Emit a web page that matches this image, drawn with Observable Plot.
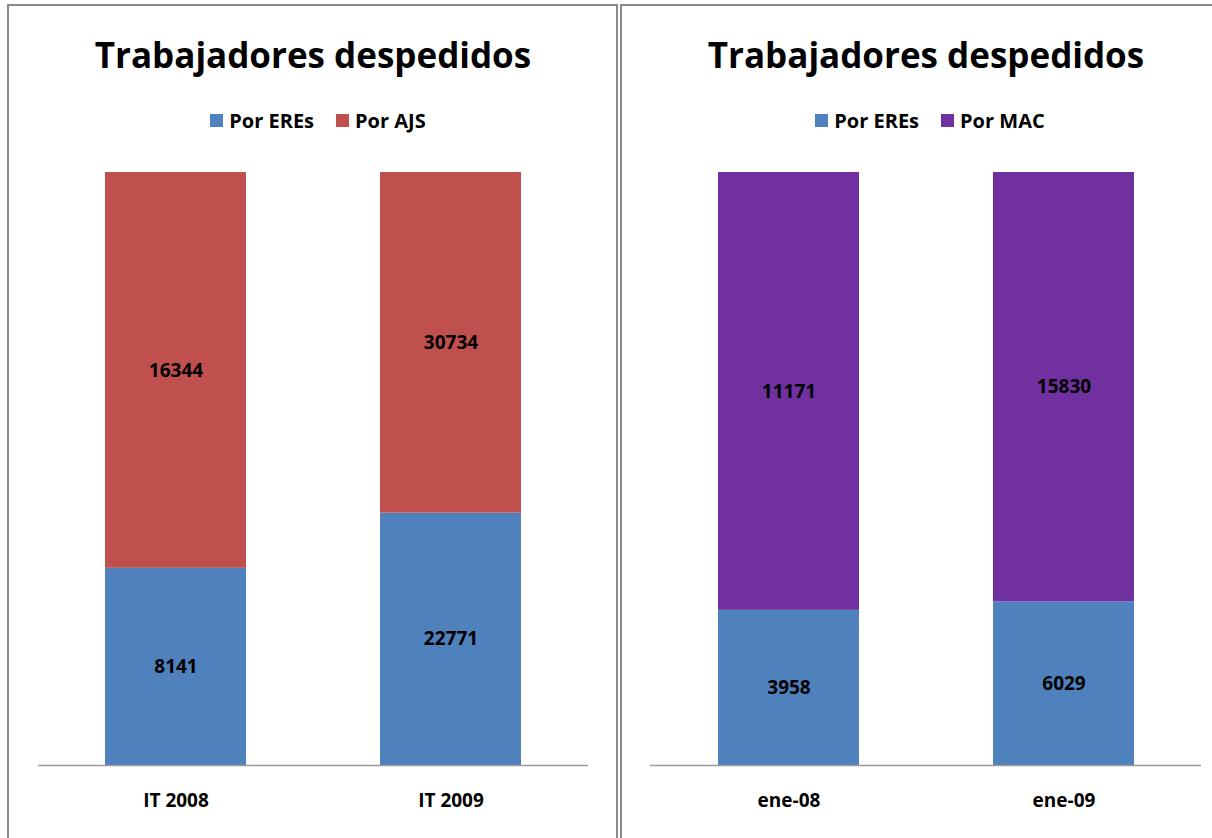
<!DOCTYPE html>
<html>
<head>
<meta charset="utf-8">
<script src="https://cdn.jsdelivr.net/npm/d3@7"></script>
<script src="https://cdn.jsdelivr.net/npm/@observablehq/plot@0.6"></script>
<style>
  html, body { margin: 0; padding: 0; background: #fff; }
  body { width: 1212px; height: 838px; position: relative; overflow: hidden; font-family: "Open Sans", Lato, sans-serif; }
  .frame { position: absolute; border: 2px solid #8a8a8a; box-sizing: border-box; }
  .title { position: absolute; text-align: center; font-weight: bold; font-size: 35px; color: #000; line-height: 1; }
  .legend { position: absolute; display: flex; justify-content: center; align-items: center; font-weight: bold; font-size: 20px; color: #000; }
  .legend .item { display: flex; align-items: center; margin: 0 11px; }
  .legend .sw { width: 13px; height: 13px; margin-right: 6px; }
  .plot { position: absolute; }
</style>
</head>
<body>
<div class="frame" style="left:7px; top:4px; width:611px; height:860px;"></div>
<div class="frame" style="left:620px; top:4px; width:620px; height:860px;"></div>
<div class="title" style="left:9px; width:608px; top:37px;">Trabajadores despedidos</div>
<div class="title" style="left:621px; width:610px; top:37px;">Trabajadores despedidos</div>
<div class="legend" id="legA" style="left:9px; width:618px; top:108px; height:24px;"></div>
<div class="legend" id="legB" style="left:621px; width:618px; top:108px; height:24px;"></div>
<div class="plot" id="plotA" style="left:10px; top:150px;"></div>
<div class="plot" id="plotB" style="left:622px; top:150px;"></div>
<script>
// Data
const categoriesA = ["IT 2008", "IT 2009"];
const eresA = [8141, 22771];
const ajsA = [16344, 30734];
const categoriesB = ["ene-08", "ene-09"];
const eresB = [3958, 6029];
const macB = [11171, 15830];
const seriesA = ["Por EREs", "Por AJS"];
const seriesB = ["Por EREs", "Por MAC"];
const colorsA = ["#4F81BD", "#C0504D"];
const colorsB = ["#4F81BD", "#7030A0"];

function rows(cats, s0, v0, s1, v1) {
  const out = [];
  cats.forEach((c, i) => out.push({cat: c, serie: s0, value: v0[i]}));
  cats.forEach((c, i) => out.push({cat: c, serie: s1, value: v1[i]}));
  return out;
}

function legend(el, series, colors) {
  const node = document.getElementById(el);
  series.forEach((s, i) => {
    const it = document.createElement("div");
    it.className = "item";
    const sw = document.createElement("div");
    sw.className = "sw";
    sw.style.background = colors[i];
    const t = document.createElement("span");
    t.textContent = s;
    it.appendChild(sw); it.appendChild(t);
    node.appendChild(it);
  });
}

function chart(data, cats, series, colors, width, mLeft, mRight) {
  return Plot.plot({
    width: width,
    height: 688,
    marginTop: 22,
    marginBottom: 73,
    marginLeft: mLeft,
    marginRight: mRight,
    style: {fontFamily: "'Open Sans', Lato, sans-serif", fontSize: "19px", fontWeight: "bold", color: "#000", background: "transparent"},
    x: {domain: cats, paddingInner: 0.489, paddingOuter: 0.243, label: null},
    y: {axis: null, domain: [0, 1]},
    color: {domain: series, range: colors},
    marks: [
      Plot.barY(data, {x: "cat", y: "value", fill: "serie", offset: "normalize", order: series}),
      Plot.text(data, Plot.stackY({x: "cat", y: "value", z: "serie", text: d => String(d.value), offset: "normalize", order: series, fill: "#000", fontWeight: "bold", fontSize: 19})),
      Plot.ruleY([0], {stroke: "#9a9a9a", strokeWidth: 1.5}),
      Plot.axisX({tickSize: 0, tickPadding: 28, fontSize: 19, fontWeight: "bold", fill: "#000", label: null})
    ]
  });
}

legend("legA", seriesA, colorsA);
legend("legB", seriesB, colorsB);
document.getElementById("plotA").appendChild(
  chart(rows(categoriesA, seriesA[0], eresA, seriesA[1], ajsA), categoriesA, seriesA, colorsA, 605, 28, 27));
document.getElementById("plotB").appendChild(
  chart(rows(categoriesB, seriesB[0], eresB, seriesB[1], macB), categoriesB, seriesB, colorsB, 590, 28, 11));
</script>
</body>
</html>
